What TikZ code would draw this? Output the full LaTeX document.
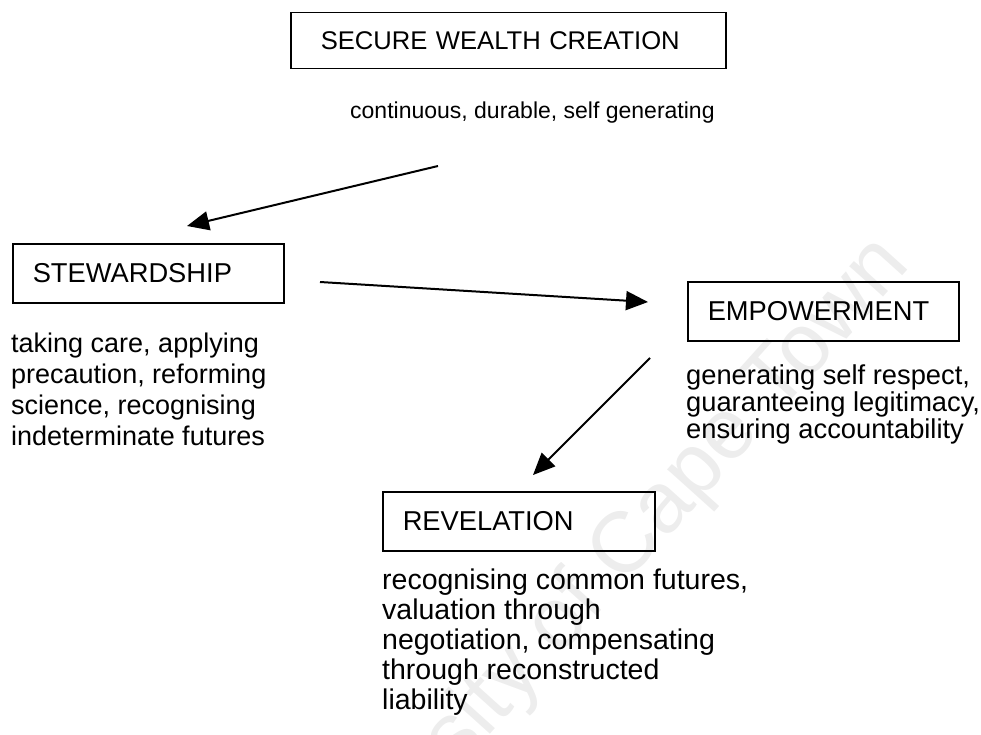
\documentclass[tikz,border=0pt]{standalone}
\usepackage{fontspec}
\setmainfont{Liberation Sans}
\usetikzlibrary{arrows.meta}
\begin{document}
\begin{tikzpicture}[x=1pt,y=-1pt,
  box/.style={draw, line width=1.5pt, anchor=north west, inner xsep=20pt,
    inner ysep=0pt, align=left, font=\fontsize{27.3}{30}\selectfont},
  desc/.style={anchor=north west, inner sep=0pt, align=left},
  flow/.style={line width=2pt, -{Triangle[length=22pt,width=19pt]}},
  wm/.style={text=black!7, font=\fontsize{86}{90}\selectfont, rotate=48}]
\useasboundingbox (0,0) rectangle (981,735);

% faint watermark behind the diagram
\node[wm] (mark) at (585,596) {University of Cape Town};

% headings in boxes
\node[box, inner xsep=30pt, text width=375pt, minimum height=56pt,
  font=\fontsize{25.6}{30}\selectfont] (swc) at (290,12) {SECURE WEALTH CREATION};
\node[box, text width=231pt, minimum height=59pt] (stew) at (12,243) {STEWARDSHIP};
\node[box, text width=231pt, minimum height=59pt] (emp) at (687,281) {EMPOWERMENT};
\node[box, text width=232pt, minimum height=59pt] (rev) at (382,491) {REVELATION};

% explanatory texts
\node[desc, font=\fontsize{23}{28}\selectfont] (swcd) at (350,102) {continuous, durable, self generating};
\node[desc, font=\fontsize{27}{31}\selectfont] (stewd) at (11,333) {taking care, applying\\precaution, reforming\\science, recognising\\indeterminate futures};
\node[desc, font=\fontsize{27.3}{27}\selectfont] (empd) at (686,365) {generating self respect,\\guaranteeing legitimacy,\\ensuring accountability};
\node[desc, font=\fontsize{28.5}{30}\selectfont] (revd) at (382,569) {recognising common futures,\\valuation through\\negotiation, compensating\\through reconstructed\\liability};

% arrow end points
\coordinate (a1s) at (438,166);
\coordinate (a1e) at (187,226);
\coordinate (a2s) at (320,282);
\coordinate (a2e) at (648,302);
\coordinate (a3s) at (650,358);
\coordinate (a3e) at (533,475);

\draw[flow] (a1s) -- (a1e);
\draw[flow] (a2s) -- (a2e);
\draw[flow] (a3s) -- (a3e);
\end{tikzpicture}
\end{document}
